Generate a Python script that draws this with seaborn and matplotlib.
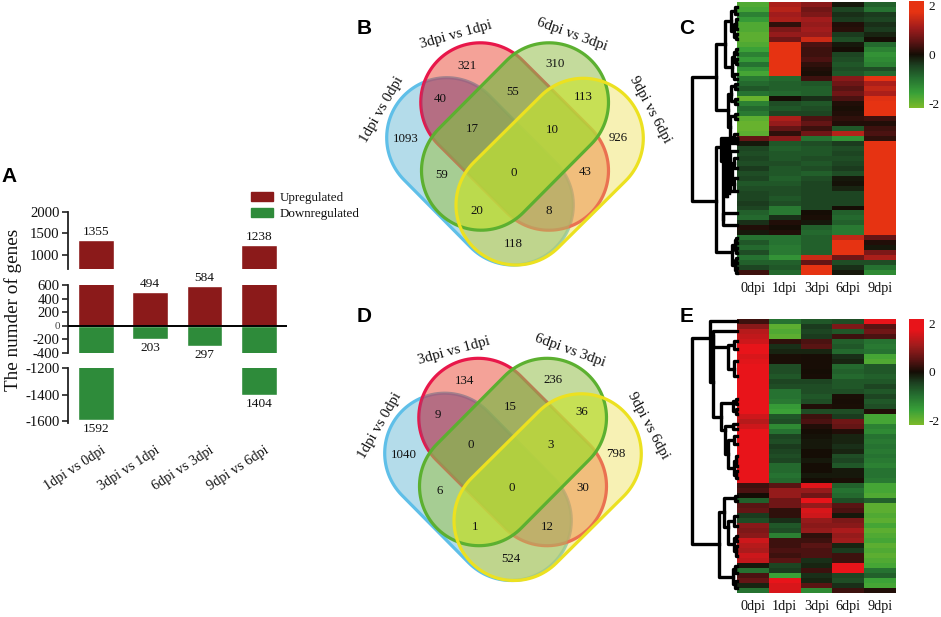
import numpy as np
import pandas as pd
import matplotlib
matplotlib.use('Agg')
import matplotlib.pyplot as plt
from matplotlib.colors import LinearSegmentedColormap
from matplotlib.patches import Polygon, Patch
from matplotlib.transforms import ScaledTranslation
import seaborn as sns

# --- panel A values
comparisons = ['1dpi vs 0dpi', '3dpi vs 1dpi', '6dpi vs 3dpi', '9dpi vs 6dpi']
upregulated = [1355, 494, 584, 1238]
downregulated = [-1592, -203, -297, -1404]

# --- venn counts
venn_b_counts = [321, 310, 40, 55, 113, 1093, 17, 10, 926, 59, 0, 43, 20, 8, 118]
venn_d_counts = [134, 236, 9, 15, 36, 1040, 0, 3, 798, 6, 0, 30, 1, 12, 524]

# --- heatmap C, one list per time point (top row first)
c_0dpi = [-1.8, -1.7, -1.2, -1.5, -1.8, -1.8, -1.9, -1.9, -1.8, -1.6,
          -1.2, -1.5, -1.0, -1.4, -1.7, -1.1, -0.9, -0.7, -1.0, -2.0,
          -1.2, -0.9, -1.1, -1.9, -2.0, -2.0, -1.9, 0.6, -0.1, -0.5,
          -0.6, -0.5, -0.6, -0.4, -0.6, -0.5, -0.7, -0.6, -0.5, -0.5,
          -0.4, -0.5, -0.8, -0.9, -0.3, 0.1, -0.1, -1.0, -0.7, -0.9,
          -0.6, -1.0, -0.8, -0.5, 0.3]
c_1dpi = [1.2, 1.3, 1.1, 1.2, 0.2, 0.8, 1.0, 0.7, 2.0, 2.0,
          2.0, 2.0, 2.0, 2.0, 2.0, -0.9, -0.8, -0.8, -0.9, 0.0,
          -0.6, -0.7, -0.5, 1.2, 1.0, 0.6, 0.2, 0.9, -0.7, -0.8,
          -0.7, -0.7, -0.6, -0.7, -0.7, -0.8, -0.7, -0.6, -0.6, -0.7,
          -0.6, -1.1, -1.1, -0.3, 0.1, 0.0, 0.1, -1.0, -1.0, -1.1,
          -1.1, -1.4, -0.8, -0.7, -0.9]
c_3dpi = [0.9, 0.7, 0.8, 1.1, 1.0, 1.1, 1.0, 1.5, 0.4, 0.3,
          0.3, 0.4, 0.2, 0.1, 0.05, 0.3, -0.7, -0.8, -0.8, -0.3,
          -0.7, -0.6, -0.5, 0.4, 0.6, 0.3, 0.7, -1.0, -0.6, -0.7,
          -0.7, -0.6, -0.7, -0.6, -0.8, -0.6, -0.5, -0.5, -0.5, -0.5,
          -0.5, -0.5, 0.0, 0.05, -0.1, -0.8, -0.9, -0.8, -0.8, -0.8,
          -0.8, 1.5, 0.6, 2.0, 2.0]
c_6dpi = [-0.1, -0.5, -0.3, -0.4, 0.1, 0.15, -0.4, -0.6, -0.1, 0.0,
          -0.5, -0.6, -0.7, -0.6, -0.7, 0.9, 0.7, 0.5, 0.7, 0.4,
          0.1, 0.05, 0.1, 0.2, 0.1, -0.7, 1.3, -1.4, -0.4, -0.6,
          -0.5, -0.6, -0.5, -0.4, -0.6, -0.1, -0.05, -0.2, -0.5, -0.5,
          -0.5, 0.0, -0.8, -0.9, -0.8, -1.1, -1.1, 1.4, 2.0, 2.0,
          2.0, 0.7, -0.6, -0.3, -0.1]
c_9dpi = [-0.8, -1.0, -0.4, -0.5, -0.3, -0.4, -0.2, 0.0, -0.9, -1.2,
          -1.4, -1.3, -1.2, -0.6, -0.9, 2.0, 1.2, 1.4, 1.2, 1.7,
          2.0, 2.0, 2.0, 0.3, 0.1, 0.3, 0.4, 0.2, 2.0, 2.0,
          2.0, 2.0, 2.0, 2.0, 2.0, 2.0, 2.0, 2.0, 2.0, 2.0,
          2.0, 2.0, 2.0, 2.0, 2.0, 2.0, 2.0, 0.6, 0.1, -0.1,
          0.8, 1.2, -0.6, -1.0, -1.3]

# --- heatmap E
e_0dpi = [0.3, 0.9, 1.3, 1.4, 1.5, 2.0, 2.0, 1.6, 1.7, 2.0,
          2.0, 2.0, 2.0, 2.0, 1.9, 2.0, 2.0, 1.9, 1.9, 1.5,
          1.3, 1.5, 2.0, 2.0, 2.0, 2.0, 2.0, 2.0, 2.0, 2.0,
          2.0, 2.0, 2.0, 0.3, 0.4, 0.0, -0.8, 0.5, 0.6, -0.4,
          -0.6, 0.9, 0.8, 0.9, 1.5, 1.3, 1.2, 1.5, 1.4, -0.1,
          -1.0, 0.4, 0.6, -0.2, -1.0]
e_1dpi = [-1.0, -1.9, -1.8, -1.9, 0.2, -0.3, -0.2, 0.05, 0.05, -0.6,
          -0.6, -0.7, -0.5, -0.6, -1.0, -1.0, -1.1, -1.5, -1.6, -0.7,
          -0.6, -1.3, -1.0, -0.5, -0.6, -0.4, -0.5, -0.6, -0.5, -0.9,
          -0.9, -1.0, -0.9, 0.5, 1.0, 1.0, 0.7, 0.7, 0.2, 0.2,
          -0.3, -0.7, -0.6, -1.2, 0.3, 0.3, 0.4, 0.3, 0.5, -0.5,
          -0.4, -1.6, 2.0, 1.6, 1.6]
e_3dpi = [-0.7, -0.4, -0.5, -0.4, 0.4, 0.5, -0.2, 0.03, 0.02, 0.03,
          0.0, 0.03, -0.5, -0.6, -0.6, -0.7, -0.6, 0.1, -0.6, 0.3,
          0.4, 0.1, 0.0, -0.05, -0.1, -0.1, 0.0, 0.0, -0.1, 0.0,
          0.0, -0.1, 0.0, 1.7, 1.0, 0.7, 2.0, 1.0, 1.6, 1.5,
          1.0, 0.9, 1.0, 0.2, 0.3, 0.5, 0.4, 0.4, -0.3, -0.2,
          0.3, -0.3, -0.2, 0.5, -1.3]
e_6dpi = [-0.6, 0.8, -0.7, 0.3, -0.8, -0.7, -0.9, -0.3, -0.2, -0.9,
          -0.8, -0.9, -0.7, -0.7, -0.6, 0.05, 0.02, 0.05, -0.6, -0.4,
          0.7, 0.6, 0.1, -0.2, -0.2, -0.3, -0.2, -0.6, -0.5, -0.7,
          -0.1, -0.1, 0.05, -0.8, -1.0, -0.9, -0.6, 0.5, 0.4, -0.1,
          0.8, 0.9, 1.2, 1.0, 1.1, -0.2, -0.4, 0.3, 0.3, 1.9,
          1.9, -0.5, -0.6, -0.3, 0.3]
e_9dpi = [1.8, 0.5, 0.7, 0.4, -1.0, -1.1, -1.0, -1.7, -1.8, -0.7,
          -0.7, -0.8, -0.7, -0.5, -0.7, -0.5, -0.7, -0.6, 0.1, -1.7,
          -1.7, -1.2, -1.3, -1.0, -1.1, -1.0, -1.1, -1.0, -1.1, -1.2,
          -1.0, -1.0, -1.1, -1.7, -1.7, -1.8, -0.8, -1.9, -1.9, -1.8,
          -1.9, -1.7, -1.9, -1.8, -1.7, -1.9, -1.8, -1.9, -1.8, -1.7,
          -1.0, -0.8, -1.6, -1.7, 0.1]

timepoints = ['0dpi', '1dpi', '3dpi', '6dpi', '9dpi']

# dendrograms as nested [height, child, child, optional row of the stem]
# leaves are plain row numbers
c_upper = [21.3,
           [11.7,
            [6, [2, 0.5, 2], [3, [1, 3, 5], [1, 6, 7]]],
            [5, [3, [1, 9, 10], [1, 11, 12]], [3, 14, 15]]],
           [9,
            [6, [2, 16, 17], [2, 19, 20]],
            [7, [2, 22, 23], [3, 26, [1, 27, 28]]]],
           15.2]
c_dense = [16.3, 27,
           [14.5,
            [13, 27.2,
             [11.5, 27.4,
              [10, 27.6,
               [8.5, 28,
                [7.5, 29.5, [5, [3, 31, 33], [3, 35, 37.5], 38], 38],
                38.5],
               39],
              39],
             28],
            [14, 42, 44.5],
            32],
           29.2]
c_lower = [21.3, c_dense,
           [4.7, [2.5, [1, 47, 48], [1, 49, 50]], [2.5, [1, 51, 52], [1, 53, 54]], 50.3],
           40]
c_tree = [45, c_upper, c_lower]

e_upper = [27, 0,
           [24.5,
            [24.5, 2, [8.7, [3, 4, 5.5], [3, 8, 11], 5.6], 3.5],
            [16,
             [3.7, [1, 15.5, 16.5], [1, 17.5, 18.5], 16.9],
             [12,
              [4, 20.5, 21.5],
              [8.7, [3, 23, 24.5], [3, [1, 27, 29], [1, 30, 31.5]], 27],
              22.3],
             19.6],
            12.6],
           3.9]
e_lower = [17.7,
           [12.7, [2, 35, 36], [8.7, [3, 39, 41], [3, [1, 43, 44], [1, 45, 47]], 41.7], 38.7],
           [4, [2, 49, 50.5], [2, 52, 53.5], 51.7],
           45.2]
e_tree = [44.7, e_upper, e_lower]

FIG_W, FIG_H = 941, 617
DARK_RED = '#8b1a1a'
DARK_GREEN = '#2e8b3a'

sns.set_theme(style='white')
plt.rcParams['font.family'] = ['Liberation Serif', 'DejaVu Serif']
plt.rcParams['axes.unicode_minus'] = False
plt.rcParams['text.color'] = '#111111'
plt.rcParams['xtick.labelcolor'] = '#111111'
plt.rcParams['ytick.labelcolor'] = '#111111'
fig = plt.figure(figsize=(FIG_W / 100, FIG_H / 100), dpi=100, facecolor='white')


def axes_px(x0, y0, x1, y1):
    # y counts from the top of the figure, like the picture
    return fig.add_axes([x0 / FIG_W, 1 - y1 / FIG_H, (x1 - x0) / FIG_W, (y1 - y0) / FIG_H])


# canvas in pixel units for the venn shapes and the loose text
canvas = axes_px(0, 0, FIG_W, FIG_H)
canvas.set_xlim(0, FIG_W)
canvas.set_ylim(FIG_H, 0)
canvas.axis('off')


# ---------- A: bars on three broken axes
def draw_bars(ax, ylim, ticks):
    sns.barplot(x=comparisons, y=upregulated, color=DARK_RED, saturation=1, width=0.66, ax=ax)
    sns.barplot(x=comparisons, y=downregulated, color=DARK_GREEN, saturation=1, width=0.66, ax=ax)
    ax.set_xlim(-0.517, 3.52)
    ax.set_ylim(*ylim)
    ax.set_yticks(ticks)
    ax.tick_params(axis='y', left=True, length=4.5, width=1.2, pad=1.5, labelsize=10.6, color='#222222')
    ax.tick_params(axis='x', bottom=False, labelbottom=False)
    sns.despine(ax=ax, bottom=True)
    ax.spines['left'].set_linewidth(1.3)
    ax.spines['left'].set_color('#222222')
    ax.patch.set_alpha(0)


ax_top = axes_px(68, 212, 287, 269)
draw_bars(ax_top, (670, 2000), [1000, 1500, 2000])
ax_mid = axes_px(68, 285, 287, 352.7)
draw_bars(ax_mid, (-400, 600), [-400, -200, 0, 200, 400, 600])
ax_mid.axhline(0, color='black', lw=1.4, zorder=5)
ax_mid.get_yticklabels()[2].set_fontsize(8)
ax_mid.get_yticklabels()[2].set_color('#444444')
ax_low = axes_px(68, 368, 287, 423)
draw_bars(ax_low, (-1612, -1200), [-1600, -1400, -1200])

value_style = dict(ha='center', va='center', fontsize=9.6, textcoords='offset pixels', annotation_clip=False)
for i in [0, 3]:
    ax_top.annotate(str(upregulated[i]), (i, upregulated[i]), xytext=(0, 8), **value_style)
    ax_low.annotate(str(-downregulated[i]), (i, downregulated[i]), xytext=(0, -9), **value_style)
for i in [1, 2]:
    ax_mid.annotate(str(upregulated[i]), (i, upregulated[i]), xytext=(0, 8), **value_style)
    ax_mid.annotate(str(-downregulated[i]), (i, downregulated[i]), xytext=(0, -9), **value_style)

ax_low.tick_params(axis='x', labelbottom=True, pad=9, labelsize=10.3)
ax_low.set_xticks(range(4))
ax_low.set_xticklabels(comparisons, rotation=33, ha='right', rotation_mode='anchor')
nudge = ScaledTranslation(0.05, 0, fig.dpi_scale_trans)
for lab in ax_low.get_xticklabels():
    lab.set_transform(lab.get_transform() + nudge)

canvas.text(13, 310, 'The numder of genes', rotation=90, ha='center', va='center', fontsize=13.8)

ax_top.legend(handles=[Patch(color=DARK_RED, label='Upregulated'), Patch(color=DARK_GREEN, label='Downregulated')],
              loc='upper left', bbox_to_anchor=(250.7 / FIG_W, 1 - 192 / FIG_H), bbox_transform=fig.transFigure,
              frameon=False, fontsize=9.4, borderpad=0, borderaxespad=0, handlelength=1.72,
              handleheight=0.62, handletextpad=0.5, labelspacing=0.3)


# ---------- B and D: venn diagrams
def stadium(p1, p2, r):
    # outline of a capsule round the segment p1-p2
    p1, p2 = np.array(p1, float), np.array(p2, float)
    a = np.arctan2(p2[1] - p1[1], p2[0] - p1[0])
    t1 = np.linspace(a + np.pi / 2, a + 3 * np.pi / 2, 60)
    t2 = np.linspace(a - np.pi / 2, a + np.pi / 2, 60)
    return np.vstack([p1 + r * np.c_[np.cos(t1), np.sin(t1)], p2 + r * np.c_[np.cos(t2), np.sin(t2)]])


def rgba(r, g, b, a):
    return (r / 255, g / 255, b / 255, a)


venn_blue = stadium((446.7, 137.7), (513.3, 205), 60)
venn_red = stadium((480.3, 102.3), (549, 170.7), 59.5)
venn_green = stadium((549, 102.3), (481, 170.7), 59.5)
venn_yellow = stadium((583.3, 138.3), (516, 205), 60)
count_pos = [(466.7, 66), (555, 64.3), (440, 99.3), (512.7, 91.7), (583.3, 96.7),
             (406, 139), (472.3, 129.3), (552.7, 130), (618.3, 138.3), (441.7, 175),
             (513.3, 172.7), (585, 172.3), (476.7, 211), (549, 211), (513.3, 244)]
venn_names = [('1dpi vs 0dpi', 381.7, 110, 60), ('3dpi vs 1dpi', 456, 35, 15.5),
              ('6dpi vs 3dpi', 571.7, 35, -20), ('9dpi vs 6dpi', 650, 110, -62)]


def draw_venn(counts, dx, dy):
    shift = [dx, dy]
    blue = canvas.add_patch(Polygon(venn_blue + shift, facecolor=rgba(107, 187, 215, 0.5),
                                    edgecolor='#5fbfe8', lw=2.3))
    red = canvas.add_patch(Polygon(venn_red + shift, facecolor=rgba(235, 70, 50, 0.5),
                                   edgecolor='#e8174a', lw=2.3))

    def tint(shape, clip, color):
        # deepen the colour where two sets overlap
        p = canvas.add_patch(Polygon(shape + shift, facecolor=color, edgecolor='none'))
        p.set_clip_path(clip)

    tint(venn_red, blue, rgba(150, 70, 120, 0.45))
    # yellow fill goes under the green one, its outline on top of everything
    yellow = canvas.add_patch(Polygon(venn_yellow + shift, facecolor=rgba(238, 225, 90, 0.45), edgecolor='none'))
    tint(venn_yellow, blue, rgba(170, 200, 100, 0.4))
    green = canvas.add_patch(Polygon(venn_green + shift, facecolor=rgba(157, 195, 90, 0.6), edgecolor='none'))
    tint(venn_green, red, rgba(120, 170, 70, 0.4))
    tint(venn_green, yellow, rgba(205, 235, 45, 0.5))
    canvas.add_patch(Polygon(venn_green + shift, facecolor='none', edgecolor='#5cb030', lw=2.3))
    canvas.add_patch(Polygon(venn_yellow + shift, facecolor='none', edgecolor='#ece120', lw=2.3))
    for n, (x, y) in zip(counts, count_pos):
        canvas.text(x + dx, y + dy, str(n), ha='center', va='center', fontsize=9.3)
    for name, x, y, rot in venn_names:
        canvas.text(x + dx, y + dy, name, rotation=rot, ha='center', va='center', fontsize=10.8,
                    rotation_mode='anchor')


draw_venn(venn_b_counts, 0, 0)
draw_venn(venn_d_counts, -2, 315.5)


# ---------- C and E: heatmaps with row trees
def make_cmap(top_red):
    return LinearSegmentedColormap.from_list('heat', [
        (0.00, '#7cba2a'), (0.14, '#38a038'), (0.28, '#256f30'), (0.40, '#1c3f20'),
        (0.50, '#140d05'), (0.62, '#5c1414'), (0.75, '#a01c1c'), (0.90, top_red), (1.00, top_red)])


def draw_tree(ax, node):
    # returns (row of the stem, height) of this node
    if not isinstance(node, list):
        return node + 0.5, 0
    h = node[0]
    y1, h1 = draw_tree(ax, node[1])
    y2, h2 = draw_tree(ax, node[2])
    ax.plot([h1, h, h, h2], [y1, y1, y2, y2], color='black', lw=2.4, solid_capstyle='projecting', clip_on=False)
    if len(node) == 4:
        return node[3], h
    return (y1 + y2) / 2, h


def draw_heat(columns, tree, top_red, y0, y1, cb_y0, cb_y1):
    table = pd.DataFrame(dict(zip(timepoints, columns)))
    ax = axes_px(737, y0, 896, y1)
    cax = axes_px(909, cb_y0, 924, cb_y1)
    sns.heatmap(table, cmap=make_cmap(top_red), vmin=-2.2, vmax=2.2, ax=ax, cbar_ax=cax, yticklabels=False,
                linewidths=0, cbar_kws={'ticks': [-2, 0, 2]})
    ax.tick_params(axis='x', bottom=False, pad=-1, labelsize=10.2, labelrotation=0)
    ax.set_xlabel('')
    cax.tick_params(right=False, pad=3, labelsize=9.6, length=0)
    ax.collections[0].colorbar.outline.set_visible(False)
    tree_ax = axes_px(690, y0, 737, y1)
    tree_ax.set_xlim(47, 0)
    tree_ax.set_ylim(len(table), 0)
    tree_ax.axis('off')
    draw_tree(tree_ax, tree)


draw_heat([c_0dpi, c_1dpi, c_3dpi, c_6dpi, c_9dpi], c_tree, '#e63312', 2, 275, 1, 108)
draw_heat([e_0dpi, e_1dpi, e_3dpi, e_6dpi, e_9dpi], e_tree, '#e8141a', 319, 593, 319, 425)

# panel letters
for letter, x, y in [('A', 9.3, 176.7), ('B', 364, 28), ('C', 686.7, 28), ('D', 364, 317), ('E', 686.7, 317)]:
    canvas.text(x, y, letter, ha='center', va='center', fontsize=15, fontweight='bold', color='black',
                family=['Liberation Sans', 'DejaVu Sans'])

fig.savefig('out.png', dpi=100)
